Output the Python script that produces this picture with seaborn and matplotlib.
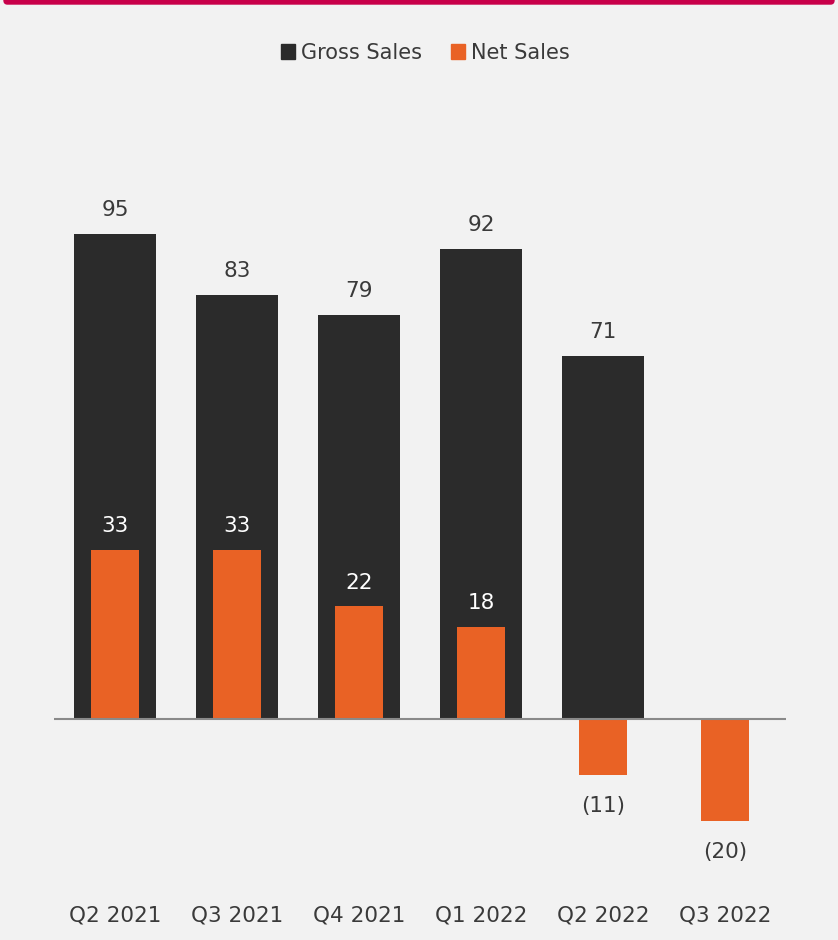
import matplotlib
matplotlib.use("Agg")
import matplotlib.pyplot as plt
import matplotlib.patches as mpatches
import seaborn as sns
import numpy as np

categories = ["Q2 2021", "Q3 2021", "Q4 2021", "Q1 2022", "Q2 2022", "Q3 2022"]
gross_sales = [95, 83, 79, 92, 71, 0]
net_sales = [33, 33, 22, 18, -11, -20]

BG = "#f2f2f2"
DARK = "#2b2b2b"
ORANGE = "#e96225"
TEXT = "#3a3a3a"
CRIMSON = "#c8004a"

sns.set_theme(style="white")
plt.rcParams['font.family'] = ['DejaVu Sans']

fig = plt.figure(figsize=(8.38, 9.40), dpi=100, facecolor=BG)
ax = fig.add_axes([54/838, 68/940, 732/838, 766/940])
ax.set_facecolor(BG)

sns.barplot(x=categories, y=gross_sales, color=DARK, width=0.664, ax=ax,
            saturation=1, order=categories, linewidth=0)
sns.barplot(x=categories, y=net_sales, color=ORANGE, width=0.40, ax=ax,
            saturation=1, order=categories, linewidth=0)

ax.set_xlim(-0.5, 5.5)
ax.set_ylim(-30, 120)
ax.axhline(0, color="#8a8a8a", lw=1.5, zorder=5)
for s in ax.spines.values():
    s.set_visible(False)
ax.set_yticks([])
ax.tick_params(axis="x", length=0, pad=24, labelsize=15.5, labelcolor=TEXT)
ax.set_xlabel("")
ax.set_ylabel("")

gross_c = ax.containers[0]
net_c = ax.containers[1]
ax.bar_label(gross_c, labels=[f"{v:d}" if v else "" for v in gross_sales],
             padding=10, fontsize=15.5, color=TEXT)
net_labels = [f"{v:d}" if v >= 0 else f"({-v:d})" for v in net_sales]
for rect, v, lab in zip(net_c.patches, net_sales, net_labels):
    x = rect.get_x() + rect.get_width() / 2
    if v >= 0:
        ax.annotate(lab, (x, v), xytext=(0, 10), textcoords="offset points",
                    ha="center", va="bottom", fontsize=15.5, color="white")
    else:
        ax.annotate(lab, (x, v), xytext=(0, -15), textcoords="offset points",
                    ha="center", va="top", fontsize=15.5, color=TEXT)

handles = [mpatches.Patch(color=DARK, label="Gross Sales"),
           mpatches.Patch(color=ORANGE, label="Net Sales")]
fig.legend(handles=handles, loc="center", bbox_to_anchor=(425/838, 1 - 53/940),
           ncol=2, frameon=False, fontsize=15, handlelength=0.7, handleheight=0.7,
           handletextpad=0.25, columnspacing=1.4, labelcolor=TEXT)

fig.patches.append(mpatches.FancyBboxPatch((4/838, 1 - 4/940), 830/838, 8/940,
                                           boxstyle="round,pad=0,rounding_size=0.004",
                                           transform=fig.transFigure, color=CRIMSON,
                                           clip_on=False))

fig.savefig("out.png", dpi=100, facecolor=BG)
